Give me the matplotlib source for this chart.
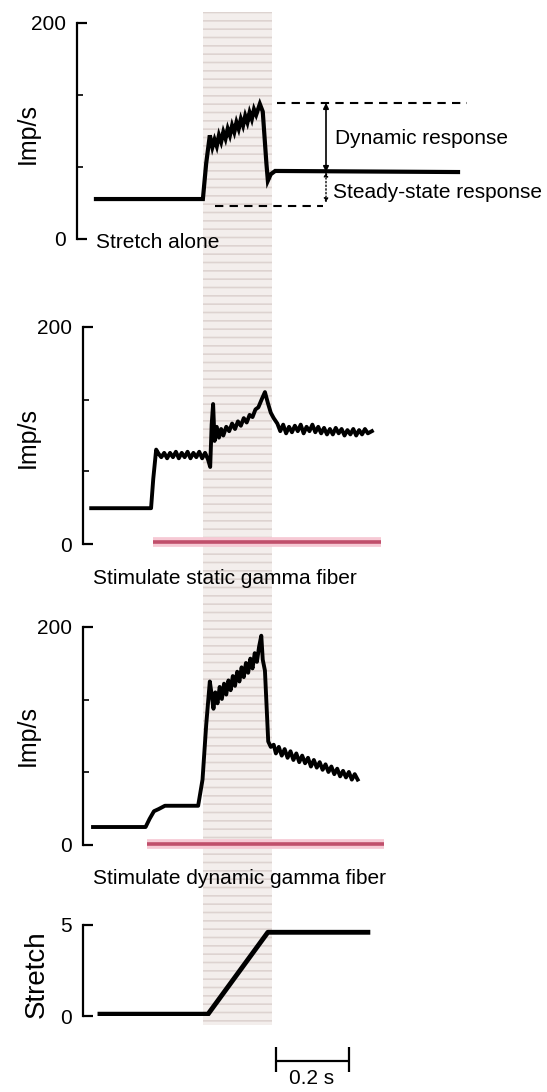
import numpy as np
import matplotlib.pyplot as plt

plt.rcParams['font.family'] = ['Liberation Sans', 'DejaVu Sans']
plt.rcParams['hatch.linewidth'] = 1.2

# time in s, 0 = start of the stretch ramp
alone_t = [-0.307, -0.014, -0.005, 0.005, 0.012, 0.018, 0.024, 0.030, 0.036, 0.042, 0.048,
           0.054, 0.060, 0.066, 0.072, 0.078, 0.084, 0.090, 0.096, 0.102, 0.108, 0.114,
           0.120, 0.126, 0.132, 0.142, 0.150, 0.160, 0.164, 0.172, 0.184, 0.685]
alone_v = [37, 37, 70, 96, 85, 92, 86, 96, 90, 99, 93,
           102, 96, 105, 99, 108, 102, 111, 105, 114, 108, 117,
           111, 120, 115, 125, 118, 70, 54, 60, 63, 62]

static_t = [-0.32, -0.156, -0.150, -0.142, -0.135, -0.128, -0.12, -0.112, -0.104, -0.096,
            -0.088, -0.08, -0.072, -0.064, -0.056, -0.048, -0.04, -0.032, -0.024, -0.016,
            -0.008, 0.0, 0.006, 0.010, 0.014, 0.018, 0.024, 0.030, 0.036, 0.042, 0.05,
            0.058, 0.066, 0.074, 0.082, 0.09, 0.098, 0.106, 0.114, 0.122, 0.13, 0.138,
            0.148, 0.156, 0.164, 0.172, 0.18, 0.19, 0.198, 0.206, 0.214, 0.222, 0.23,
            0.238, 0.246, 0.254, 0.262, 0.27, 0.278, 0.286, 0.294, 0.302, 0.31, 0.318,
            0.326, 0.334, 0.342, 0.35, 0.358, 0.366, 0.374, 0.382, 0.39, 0.398, 0.406,
            0.414, 0.422, 0.43, 0.438, 0.449]
static_v = [33, 33, 60, 87, 83, 80, 84, 79, 84, 80,
            85, 79, 84, 80, 85, 79, 84, 80, 85, 79,
            84, 78, 71, 110, 129, 95, 108, 98, 106, 100, 108,
            104, 111, 106, 113, 109, 116, 112, 119, 117, 124, 126,
            134, 140, 130, 121, 116, 111, 104, 110, 102, 108, 103,
            109, 104, 110, 102, 108, 104, 110, 103, 108, 102, 107,
            101, 106, 101, 107, 102, 106, 100, 105, 101, 106, 100,
            105, 101, 106, 102, 104]

dynamic_t = [-0.315, -0.171, -0.16, -0.148, -0.135, -0.118, -0.027, -0.015, -0.005, 0.005,
             0.01, 0.015, 0.02, 0.026, 0.032, 0.038, 0.044, 0.05, 0.056, 0.062, 0.068,
             0.074, 0.08, 0.086, 0.092, 0.098, 0.104, 0.11, 0.116, 0.122, 0.128, 0.134,
             0.14, 0.146, 0.150, 0.156, 0.165, 0.172, 0.18, 0.186, 0.194, 0.202, 0.21,
             0.218, 0.226, 0.234, 0.242, 0.25, 0.258, 0.266, 0.274, 0.282, 0.29, 0.298,
             0.306, 0.314, 0.322, 0.33, 0.338, 0.346, 0.354, 0.362, 0.37, 0.378, 0.386,
             0.394, 0.402, 0.41]
dynamic_v = [16.5, 16.5, 24, 31, 33, 36, 36, 60, 110, 150,
             138, 125, 140, 130, 145, 134, 148, 138, 151, 142, 155,
             146, 159, 150, 163, 154, 167, 158, 171, 162, 176, 168,
             182, 192, 170, 160, 95, 90, 92, 84, 90, 82, 88,
             80, 86, 78, 84, 76, 82, 75, 80, 72, 78, 71,
             76, 69, 74, 67, 72, 65, 70, 63, 68, 62, 67,
             60, 65, 60]

stretch_t = [-0.296, 0.0, 0.164, 0.438]
stretch_v = [0.1, 0.1, 4.6, 4.6]

static_stim_t = [-0.15, 0.474]
dynamic_stim_t = [-0.167, 0.482]
band_t = [-0.014, 0.175]
dyn_level, base_level = 126, 31
scale_s = 0.2

imp_ticks = [0, 200]
imp_minor = [67, 133]
stretch_ticks = [0, 5]

W, H = 547, 1092
T0_PX, PX_PER_S = 208, 365.0


def px_t(px):
    return (px - T0_PX) / PX_PER_S


XL = (px_t(0), px_t(W))
RED = '#c04f6b'
TXT = 15

fig = plt.figure(figsize=(W / 100, H / 100), dpi=100)

bg = fig.add_axes([0, 0, 1, 1], zorder=0)
bg.set_xlim(XL)
bg.set_ylim(0, 1)
bg.axis('off')
bg.axvspan(band_t[0], band_t[1], ymin=1 - 1025 / H, ymax=1 - 12 / H,
           facecolor='#f3eeec', edgecolor='#ddd3d0', hatch='--', linewidth=0)


def panel(top, bottom, ymax, axis_px, ticks, minor=None):
    ax = fig.add_axes([0, 1 - bottom / H, 1, (bottom - top) / H], zorder=2)
    ax.patch.set_alpha(0)
    ax.set_xlim(XL)
    ax.set_ylim(0, ymax)
    for s in ['top', 'right', 'bottom']:
        ax.spines[s].set_visible(False)
    ax.spines['left'].set_position(('data', px_t(axis_px)))
    ax.spines['left'].set_linewidth(1.6)
    ax.set_xticks([])
    ax.set_yticks(ticks)
    ax.set_yticklabels([str(v) for v in ticks])
    if minor:
        ax.set_yticks(minor, minor=True)
    ax.tick_params(axis='y', which='major', direction='in', length=7, width=1.6,
                   pad=8, labelsize=TXT)
    ax.tick_params(axis='y', which='minor', direction='in', length=4, width=1.2)
    return ax


ax1 = panel(23, 239, 200, 77, imp_ticks, imp_minor)
ax1.plot(alone_t, alone_v, color='black', lw=3, solid_joinstyle='miter')
ax1.hlines(dyn_level, px_t(277), px_t(467), colors='black', lw=1.5, linestyles=(0, (4, 3)))
ax1.hlines(base_level, px_t(215), px_t(323), colors='black', lw=1.5, linestyles=(0, (4, 3)))
ax1.annotate('', xy=(px_t(326), dyn_level), xytext=(px_t(326), alone_v[-1]),
             arrowprops=dict(arrowstyle='<|-|>', color='black', lw=1.2,
                             mutation_scale=8, shrinkA=0, shrinkB=0))
ax1.annotate('', xy=(px_t(326), alone_v[-1]), xytext=(px_t(326), base_level),
             arrowprops=dict(arrowstyle='<|-|>', color='black', lw=1.0,
                             linestyle=':', mutation_scale=6, shrinkA=2, shrinkB=0))

ax2 = panel(327, 544, 200, 83, imp_ticks, imp_minor)
ax2.plot(static_t, static_v, color='black', lw=2.8)
ax2.hlines(1.5, static_stim_t[0], static_stim_t[1], colors='#f6c9d4', lw=7, clip_on=False)
ax2.hlines(1.5, static_stim_t[0], static_stim_t[1], colors=RED, lw=2.6, clip_on=False)

ax3 = panel(627, 845, 200, 83, imp_ticks, imp_minor)
ax3.plot(dynamic_t, dynamic_v, color='black', lw=2.8)
ax3.hlines(0.5, dynamic_stim_t[0], dynamic_stim_t[1], colors='#f6c9d4', lw=7, clip_on=False)
ax3.hlines(0.5, dynamic_stim_t[0], dynamic_stim_t[1], colors=RED, lw=2.6, clip_on=False)

ax4 = panel(925, 1016, 5, 83, stretch_ticks)
ax4.plot(stretch_t, stretch_v, color='black', lw=3.5)
sb0 = band_t[1] + 0.01
ax4.hlines(-2.47, sb0, sb0 + scale_s, colors='black', lw=1.6, clip_on=False)
ax4.vlines([sb0, sb0 + scale_s], -1.7, -3.1, colors='black', lw=1.6, clip_on=False)

for y in [133, 437, 736]:
    fig.text(28 / W, 1 - y / H, 'Imp/s', rotation=90, ha='center', va='center', fontsize=18)
fig.text(37 / W, 1 - 974 / H, 'Stretch', rotation=90, ha='center', va='center', fontsize=20)
fig.text(96 / W, 1 - 242 / H, 'Stretch alone', va='center', fontsize=TXT)
fig.text(93 / W, 1 - 578 / H, 'Stimulate static gamma fiber', va='center', fontsize=TXT)
fig.text(93 / W, 1 - 879 / H, 'Stimulate dynamic gamma fiber', va='center', fontsize=TXT)
fig.text(335 / W, 1 - 139 / H, 'Dynamic response', va='center', fontsize=TXT)
fig.text(333 / W, 1 - 193 / H, 'Steady-state response', va='center', fontsize=TXT)
fig.text(312 / W, 1 - 1079 / H, '0.2 s', ha='center', va='center', fontsize=TXT)

fig.savefig('out.png', dpi=100)
